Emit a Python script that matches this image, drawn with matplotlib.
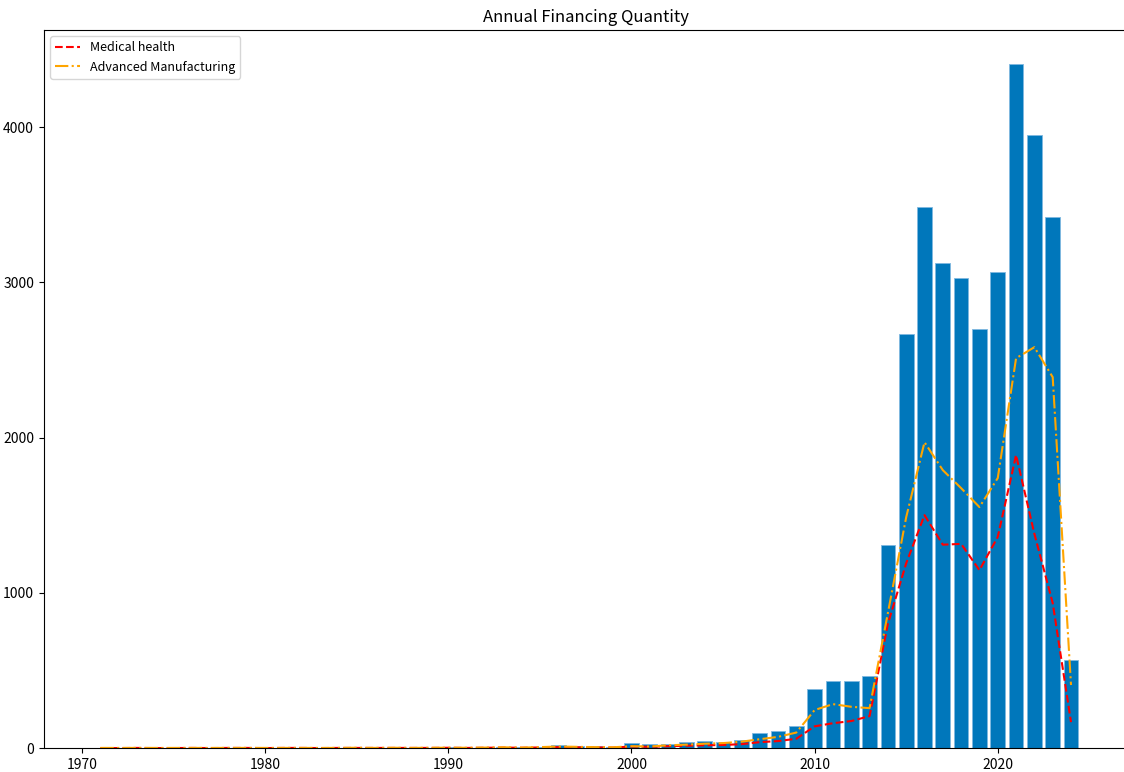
import numpy as np
import matplotlib.pyplot as plt

plt.rcParams['font.family'] = ['Noto Sans CJK SC', 'DejaVu Sans']

# years covered by the data
years = np.arange(1971, 2025)

# total financing events per year (bars)
total = [1, 1, 2, 1, 1, 2, 1, 2, 2, 1,
         2, 2, 1, 2, 3, 2, 3, 2, 3, 4,
         3, 5, 8, 5, 10, 22, 15, 12, 8, 30,
         24, 28, 36, 43, 40, 52, 97, 110, 144, 380,
         431, 431, 462, 1305, 2666, 3484, 3123, 3026, 2698, 3065,
         4404, 3947, 3419, 567]

# medical health sector
medical = [0, 0, 1, 0, 0, 1, 0, 1, 1, 0,
           1, 1, 0, 1, 1, 1, 1, 1, 1, 2,
           1, 2, 3, 2, 4, 6, 5, 4, 3, 10,
           8, 12, 15, 18, 20, 25, 38, 45, 60, 140,
           160, 174, 206, 800, 1190, 1500, 1310, 1315, 1146, 1360,
           1887, 1380, 934, 167]

# advanced manufacturing sector
manufacturing = [1, 1, 1, 1, 1, 1, 1, 1, 1, 1,
                 1, 1, 1, 1, 2, 1, 2, 1, 2, 2,
                 2, 3, 5, 3, 6, 10, 8, 6, 5, 12,
                 10, 18, 22, 28, 32, 41, 57, 72, 100, 245,
                 283, 266, 257, 870, 1487, 1970, 1790, 1674, 1552, 1739,
                 2511, 2582, 2389, 406]

fig, ax = plt.subplots(figsize=(11.24, 7.72), dpi=100)
# the original was cropped on the right, so the axes run slightly past the edge
fig.subplots_adjust(left=0.039, right=1.0032, top=0.961, bottom=0.031)

ax.bar(years, total, color='#0077BB', edgecolor='#7fb8e0', linewidth=0.6)
ax.plot(years, medical, color='red', linestyle='--', label='Medical health')
ax.plot(years, manufacturing, color='orange', linestyle='-.', label='Advanced Manufacturing')

ax.set_title('Annual Financing Quantity')
ax.legend(loc='upper left', fontsize=9)

plt.savefig('out.png')
